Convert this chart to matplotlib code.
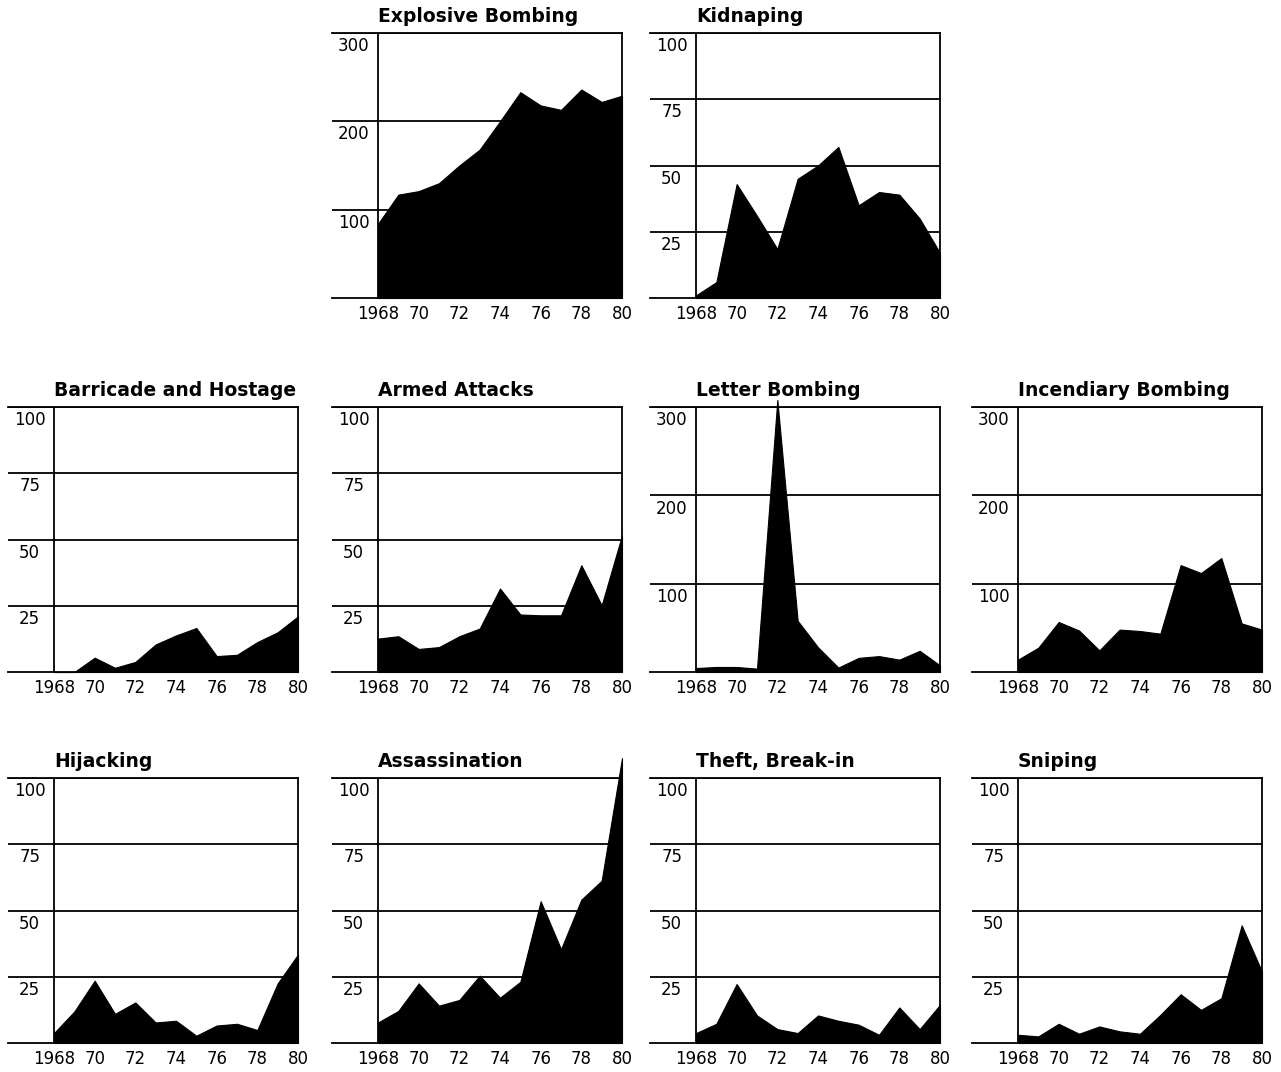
import numpy as np
import matplotlib.pyplot as plt
from matplotlib.ticker import NullLocator

plt.rcParams['font.family'] = ['DejaVu Sans']

# ---------------------------------------------------------------
# data (incidents per year)
# ---------------------------------------------------------------
years = list(range(1968, 1981))
tick_years = [1968, 1970, 1972, 1974, 1976, 1978, 1980]
tick_labels = ['1968', '70', '72', '74', '76', '78', '80']

explosive_bombing = [84, 117, 121, 130, 150, 168, 200, 233, 218, 213, 236, 222, 229]
kidnaping = [1, 6, 43, 31, 18.5, 45, 50, 57, 35, 40, 39, 30, 17]
barricade_hostage = [0, 0, 5.4, 1.6, 3.8, 10.4, 13.8, 16.6, 6, 6.5, 11.3, 15, 21]
armed_attacks = [12.6, 13.5, 8.7, 9.4, 13.5, 16.4, 31.5, 21.7, 21.4, 21.4, 40.3, 25.2, 51.6]
letter_bombing = [4.5, 5.7, 5.7, 3.8, 308, 58, 28, 5, 16, 18, 14, 24, 7.5]
incendiary_bombing = [14, 27.5, 56.6, 47, 24.5, 48, 46.4, 43.4, 121, 112, 129, 55, 48]
hijacking = [3.75, 11.9, 23.5, 11, 15.3, 7.75, 8.4, 2.75, 6.6, 7.25, 4.9, 22.5, 33.4]
assassination = [7.75, 12.1, 22.5, 14.1, 16.25, 25.4, 17.1, 23.1, 53.5, 35.4, 54.1, 61.25, 107.5]
theft_break_in = [3.75, 7.25, 22.25, 10.4, 5.25, 3.75, 10.4, 8.4, 6.9, 3.1, 13.4, 5.25, 14.4]
sniping = [3.1, 2.5, 7.25, 3.5, 6.25, 4.4, 3.5, 10.6, 18.4, 12.5, 16.9, 44.4, 26.9]

# (title, values, y max, row, col)
panels = [
    ('Explosive Bombing', explosive_bombing, 300, 0, 1),
    ('Kidnaping', kidnaping, 100, 0, 2),
    ('Barricade and Hostage', barricade_hostage, 100, 1, 0),
    ('Armed Attacks', armed_attacks, 100, 1, 1),
    ('Letter Bombing', letter_bombing, 300, 1, 2),
    ('Incendiary Bombing', incendiary_bombing, 300, 1, 3),
    ('Hijacking', hijacking, 100, 2, 0),
    ('Assassination', assassination, 100, 2, 1),
    ('Theft, Break-in', theft_break_in, 100, 2, 2),
    ('Sniping', sniping, 100, 2, 3),
]

# ---------------------------------------------------------------
# layout (pixels)
# ---------------------------------------------------------------
W, H = 1281, 1072
col_left = [8, 332, 650, 972]
row_top = [33, 407, 778]
box_w, box_h = 290, 265
lab_w = 46                       # label strip left of the 1968 line
px_per_year = (box_w - lab_w) / 12.0

fig = plt.figure(figsize=(W / 100, H / 100), dpi=100)

for title, vals, ymax, r, c in panels:
    L = col_left[c]
    T = row_top[r]
    ax = fig.add_axes([L / W, 1 - (T + box_h) / H, box_w / W, box_h / H])

    ax.set_xlim(1968 - lab_w / px_per_year, 1980)
    ax.set_ylim(0, ymax)

    # black area
    ax.fill_between(years, 0, vals, color='black', linewidth=0.8,
                    edgecolor='black', clip_on=False, zorder=3)

    # grid lines and y labels
    step = 100 if ymax == 300 else 25
    for v in np.arange(step, ymax + 1, step):
        ax.axhline(v, color='black', linewidth=1.3, zorder=2)
        ax.annotate(f'{int(v)}', xy=(0.075, v), xycoords=ax.get_yaxis_transform(),
                    xytext=(0, -3), textcoords='offset points',
                    ha='center', va='top', fontsize=12)
    ax.axvline(1968, color='black', linewidth=1.3, zorder=2)

    for s in ['top', 'bottom', 'right']:
        ax.spines[s].set_linewidth(1.3)
    ax.spines['left'].set_visible(False)

    ax.yaxis.set_major_locator(NullLocator())
    ax.set_xticks(tick_years)
    ax.set_xticklabels(tick_labels, fontsize=12)
    ax.tick_params(axis='x', length=0, pad=5)

    ax.annotate(title, xy=(1968, 1.0), xycoords=ax.get_xaxis_transform(),
                xytext=(0, 8), textcoords='offset points',
                ha='left', va='baseline', fontsize=13.5, fontweight='bold')

fig.savefig('out.png', dpi=100)
